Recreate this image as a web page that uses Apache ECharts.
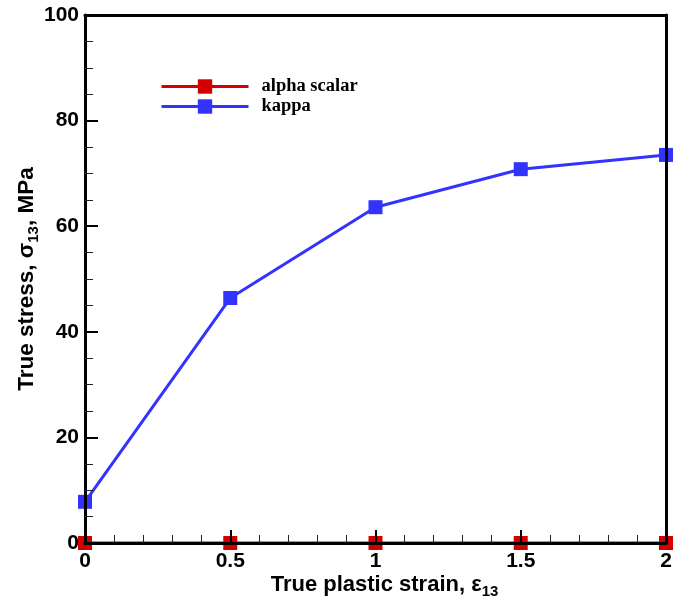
<!DOCTYPE html>
<html><head><meta charset="utf-8">
<script src="https://cdn.jsdelivr.net/npm/echarts@6/dist/echarts.min.js"></script>
<style>html,body{margin:0;padding:0;background:#fff}#c{width:674px;height:605px}</style>
</head><body><div id="c"></div>
<script>
var strain = [0, 0.5, 1, 1.5, 2];
var alphaScalar = [0, 0, 0, 0, 0];
var kappa = [7.8, 46.4, 63.6, 70.8, 73.5];
var xTicks = [0, 0.5, 1, 1.5, 2];
var yTicks = [0, 20, 40, 60, 80, 100];
var seriesNames = ['alpha scalar', 'kappa'];
var colors = ['#d40000', '#3333ff'];

function pairs(xs, ys){ return xs.map(function(x,i){return [x, ys[i]];}); }

var chart = echarts.init(document.getElementById('c'), null, {renderer:'canvas'});
var axisLbl = {fontFamily:'Liberation Sans, Arial', fontWeight:'bold', fontSize:21, color:'#000'};
function rich(sz){
  return {a:{fontFamily:'Liberation Sans, Arial', fontWeight:'bold', fontSize:sz, color:'#000', lineHeight:28},
          s:{fontFamily:'Liberation Sans, Arial', fontWeight:'bold', fontSize:15, color:'#000', lineHeight:28, verticalAlign:'bottom', padding:[10,0,0,0]}};
}
chart.setOption({
  animation:false,
  grid:{left:85, right:8, top:15, bottom:62, show:false, outerBoundsMode:'none', containLabel:false},
  legend:{
    orient:'vertical', left:155, top:72, itemWidth:87, itemHeight:18, itemGap:1,
    textStyle:{fontFamily:'Liberation Serif, Times New Roman', fontWeight:'bold', fontSize:18.5, color:'#000', padding:[0,0,0,8], lineHeight:18},
    data:seriesNames.map(function(n,i){return {name:n, lineStyle:{width:3, color:colors[i]}, itemStyle:{color:colors[i]}};})
  },
  xAxis:[{
    type:'value', min:0, max:2, interval:0.5, z:5,
    name:'{a|True plastic strain, ε}{s|13}', nameLocation:'middle', nameGap:28, nameMoveOverlap:false,
    nameTextStyle:{rich:rich(22), padding:[0,0,0,18]},
    axisLine:{show:true, lineStyle:{color:'#000', width:3}},
    axisTick:{show:true, inside:true, length:13, lineStyle:{color:'#000', width:2}},
    minorTick:{show:true, splitNumber:5, length:8, lineStyle:{color:'#222', width:1}},
    axisLabel:Object.assign({margin:8, formatter:function(v){return String(v);}}, axisLbl),
    splitLine:{show:false}
  },{
    type:'value', min:0, max:2, position:'top', z:5,
    axisLine:{show:true, onZero:false, lineStyle:{color:'#000', width:3}},
    axisTick:{show:false}, axisLabel:{show:false}, splitLine:{show:false}
  }],
  yAxis:[{
    type:'value', min:0, max:100, interval:20, z:5,
    name:'{a|True stress, σ}{s|13}{a|, MPa}', nameLocation:'middle', nameGap:44, nameRotate:90, nameMoveOverlap:false,
    nameTextStyle:{rich:rich(22.5)},
    axisLine:{show:true, lineStyle:{color:'#000', width:3}},
    axisTick:{show:true, inside:true, length:13, lineStyle:{color:'#000', width:2}},
    minorTick:{show:true, splitNumber:4, length:8, lineStyle:{color:'#222', width:1}},
    axisLabel:Object.assign({margin:6}, axisLbl),
    splitLine:{show:false}
  },{
    type:'value', min:0, max:100, position:'right', z:5,
    axisLine:{show:true, onZero:false, lineStyle:{color:'#000', width:3}},
    axisTick:{show:false}, axisLabel:{show:false}, splitLine:{show:false}
  }],
  series:[
    {name:seriesNames[0], type:'line', data:pairs(strain, alphaScalar), symbol:'rect', symbolSize:14,
     lineStyle:{color:colors[0], width:3}, itemStyle:{color:colors[0]}, z:2},
    {name:seriesNames[1], type:'line', data:pairs(strain, kappa), symbol:'rect', symbolSize:14,
     lineStyle:{color:colors[1], width:3}, itemStyle:{color:colors[1]}, z:2}
  ]
});
</script></body></html>
